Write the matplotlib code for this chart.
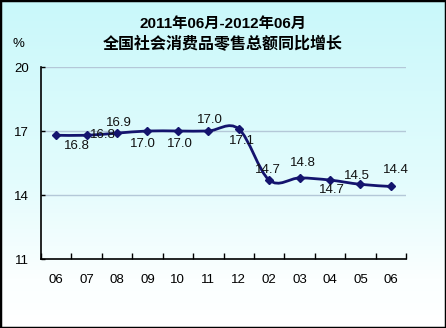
import numpy as np
import matplotlib
matplotlib.use("Agg")
import matplotlib.pyplot as plt
from matplotlib.path import Path
from matplotlib.patches import PathPatch, Rectangle
from matplotlib.colors import LinearSegmentedColormap

categories = ["06", "07", "08", "09", "10", "11", "12", "02", "03", "04", "05", "06"]
values = [16.8, 16.8, 16.9, 17.0, 17.0, 17.0, 17.1, 14.7, 14.8, 14.7, 14.5, 14.4]
value_labels = ["16.8", "16.8", "16.9", "17.0", "17.0", "17.0", "17.1", "14.7", "14.8", "14.7", "14.5", "14.4"]
y_ticks = [11, 14, 17, 20]
title_line1 = "2011年06月-2012年06月"
title_line2 = "全国社会消费品零售总额同比增长"
unit_label = "%"

# label offsets in pixels (styling)
label_offsets = [(21, -11), (16, 0), (2, 10), (-5, -13), (2, -13), (2, 11),
                 (3, -12), (-1, 10), (3, 15), (2, -10), (-3, 8), (5, 16)]

line_color = "#14146e"
latin = "Liberation Sans"
cjk = ["Liberation Sans", "Noto Sans CJK SC"]

fig = plt.figure(figsize=(4.46, 3.28), dpi=100)

# background gradient
bg = fig.add_axes([0, 0, 1, 1], zorder=-10)
cmap = LinearSegmentedColormap.from_list("bg", [(0.0, "#c9f8fa"), (0.55, "#e3fcfd"), (0.85, "#fbffff"), (1.0, "#ffffff")])
grad = np.linspace(0, 1, 256).reshape(-1, 1)
bg.imshow(grad, aspect="auto", cmap=cmap, extent=[0, 1, 0, 1], origin="upper")
bg.set_axis_off()
fig.patches.append(Rectangle((0, 0), 1, 1, transform=fig.transFigure, fill=False,
                             edgecolor="black", linewidth=2.5))

ax = fig.add_axes([41 / 446, (328 - 259) / 328, (406 - 41) / 446, (259 - 67) / 328])
ax.patch.set_alpha(0)

n = len(values)
x = np.arange(n)
y = np.array(values)

# smooth curve (Catmull-Rom -> cubic Bezier)
verts = [(x[0], y[0])]
codes = [Path.MOVETO]
for i in range(n - 1):
    p0 = np.array([x[max(i - 1, 0)], y[max(i - 1, 0)]])
    p1 = np.array([x[i], y[i]])
    p2 = np.array([x[i + 1], y[i + 1]])
    p3 = np.array([x[min(i + 2, n - 1)], y[min(i + 2, n - 1)]])
    c1 = p1 + (p2 - p0) / 6
    c2 = p2 - (p3 - p1) / 6
    verts += [tuple(c1), tuple(c2), tuple(p2)]
    codes += [Path.CURVE4] * 3
ax.add_patch(PathPatch(Path(verts, codes), facecolor="none", edgecolor=line_color,
                       linewidth=2, zorder=3))
ax.plot(x, y, linestyle="none", marker="D", markersize=4, color=line_color, zorder=4)

for xi, yi, lab, (dx, dy) in zip(x, y, value_labels, label_offsets):
    ax.annotate(lab, (xi, yi), xytext=(dx, dy), textcoords="offset pixels",
                ha="center", va="center", fontsize=9.5, family=latin, color="#111111", zorder=5)

ax.set_xlim(-0.5, n - 0.5)
ax.set_ylim(11, 20)
ax.set_yticks(y_ticks)
ax.set_yticklabels([str(t) for t in y_ticks], family=latin, fontsize=9.5)
ax.set_xticks(x)
ax.set_xticklabels(categories, family=latin, fontsize=9.5)
ax.set_xticks(np.arange(-0.5, n, 1), minor=True)
ax.tick_params(axis="x", which="major", length=0, pad=10.5)
ax.tick_params(axis="x", which="minor", direction="in", length=4, width=1)
ax.tick_params(axis="y", direction="in", length=3, width=1, pad=14)
for t in ax.get_yticklabels():
    t.set_horizontalalignment("center")

for gy in y_ticks[1:]:
    ax.axhline(gy, color="#b4c8d8", linewidth=1, zorder=1)

for s in ["top", "right"]:
    ax.spines[s].set_visible(False)
ax.spines["left"].set_linewidth(1.2)
ax.spines["bottom"].set_linewidth(1.2)

fig.text(223 / 446, 1 - 24 / 328, title_line1, ha="center", va="center",
         fontsize=11, fontweight="bold", family=cjk)
fig.text(223 / 446, 1 - 44 / 328, title_line2, ha="center", va="center",
         fontsize=11.5, fontweight="bold", family=cjk)
fig.text(18 / 446, 1 - 44 / 328, unit_label, ha="center", va="center",
         fontsize=9.5, family=latin)

fig.savefig("out.png", dpi=100)
